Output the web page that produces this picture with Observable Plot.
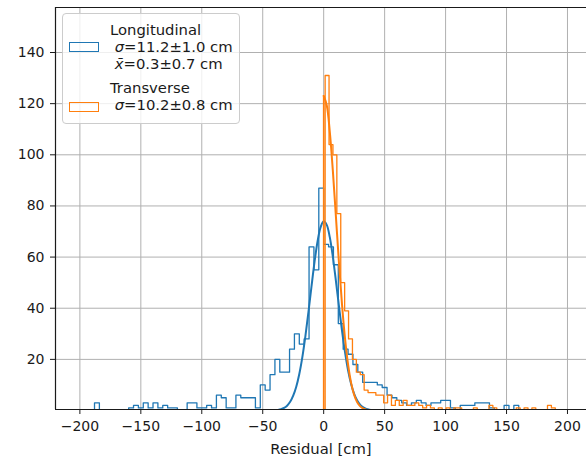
<!DOCTYPE html>
<html>
<head>
<meta charset="utf-8">
<script src="https://cdn.jsdelivr.net/npm/d3@7"></script>
<script src="https://cdn.jsdelivr.net/npm/@observablehq/plot@0.6"></script>
<style>
html, body { margin: 0; padding: 0; background: #fff; overflow: hidden; }
#wrap { position: relative; width: 586px; height: 456px; font-family: "DejaVu Sans", sans-serif; }
#legend { position: absolute; left: 62px; top: 13px; width: 178px; height: 111px; box-sizing: border-box;
  border: 1px solid #cccccc; border-radius: 4px; background: rgba(255,255,255,0.8); }
.patch { position: absolute; left: 6px; width: 30px; height: 10px; box-sizing: border-box; background: transparent; }
.ltext { position: absolute; left: 47px; font-size: 14.8px; line-height: 17px; height: 17px; white-space: pre; color: #1a1a1a; }
.m { font-style: italic; }
</style>
</head>
<body>
<div id="wrap">
  <div id="chart"></div>
  <div id="legend"></div>
</div>
<script>
// ---- data ----
const seriesNames = ["Longitudinal", "Transverse"];
const seriesColors = ["#1f77b4", "#ff7f0e"];
const legendLines = [
  ["Longitudinal", " σ=11.2±1.0 cm", " x̄=0.3±0.7 cm"],
  ["Transverse", " σ=10.2±0.8 cm"]
];

// Longitudinal histogram: 4 cm bins starting at -200
const longBinStart = -200;
const longBinWidth = 4;
const longCounts = [
  0, 0, 0, 3, 0, 0, 0, 0, 0, 0,
  1, 2, 1, 3, 1, 3, 1, 2, 1, 1,
  0, 0, 3, 3, 1, 1, 2, 1, 6, 5,
  1, 1, 6, 5, 5, 5, 1, 10, 8, 14,
  20, 15, 15, 24, 30, 26, 28, 64, 55, 87,
  65, 64, 57, 34, 24, 22, 18, 15, 11, 11,
  11, 10, 9, 6, 5, 4, 3, 2, 3, 4,
  3, 2, 3, 3, 4, 4, 1, 0, 2, 2,
  2, 3, 3, 3, 1, 0, 0, 2, 0, 2,
  0, 0, 0, 0, 0, 0, 0, 0, 0, 0
];

// Transverse histogram: 3.2 cm bins starting at 1.2
const transBinStart = 1.2;
const transBinWidth = 3.2;
const transCounts = [
  131, 104, 100, 77, 50, 39, 28, 20, 15, 14,
  8, 7, 7, 6, 6, 3, 6, 2, 4, 2,
  4, 2, 2, 3, 2, 1, 2, 1, 0, 1,
  0, 1, 0, 1, 1, 0, 0, 0, 1, 0,
  0, 0, 2, 1, 0, 0, 0, 0, 0, 1,
  0, 1, 0, 1, 0, 0, 0, 2, 1
];

// Fitted curves
const longFitX = [-60, -50, -45, -40, -37.5, -35, -32.5, -30, -27.5, -25, -22.5, -20, -17.5, -15, -12.5, -10, -7.5, -5, -2.5, 0,
  2.5, 5, 7.5, 10, 12.5, 15, 17.5, 20, 22.5, 25, 27.5, 30, 32.5, 35, 37.5, 40, 45, 50, 60];
const longFitY = [0, 0, 0.02, 0.11, 0.25, 0.51, 1.0, 1.9, 3.4, 5.8, 9.3, 14.3, 20.9, 29.1, 38.5, 48.5, 58.1, 66.2, 71.7, 74,
  72.6, 67.8, 60.2, 50.8, 40.9, 31.3, 22.8, 15.7, 10.4, 6.5, 3.9, 2.2, 1.2, 0.6, 0.3, 0.14, 0.03, 0, 0];

const transFitX = [0, 2.5, 5, 7.5, 10, 12.5, 15, 17.5, 20, 22.5, 25, 27.5, 30, 32.5, 35, 40, 45, 50, 60];
const transFitY = [123, 119.4, 109.1, 93.9, 76.1, 58.0, 41.7, 28.2, 18.0, 10.8, 6.1, 3.25, 1.63, 0.77, 0.34, 0.06, 0, 0, 0];

const xTicks = [-200, -150, -100, -50, 0, 50, 100, 150, 200];
const yTicks = [20, 40, 60, 80, 100, 120, 140];
const xDomain = [-220, 215.6];
const yDomain = [0.4, 157.6];
const xLabel = "Residual [cm]";

// ---- build ----
function stepPath(start, width, counts) {
  const pts = [{x: start, y: 0}];
  counts.forEach((c, i) => {
    pts.push({x: start + i * width, y: c});
    pts.push({x: start + (i + 1) * width, y: c});
  });
  pts.push({x: start + counts.length * width, y: 0});
  return pts;
}
const longSteps = stepPath(longBinStart, longBinWidth, longCounts);
const transSteps = stepPath(transBinStart, transBinWidth, transCounts);
const longFit = longFitX.map((x, i) => ({x, y: longFitY[i]}));
const transFit = transFitX.map((x, i) => ({x, y: transFitY[i]}));

const fmt = d => d < 0 ? "\u2212" + Math.abs(d) : String(d);

const chart = Plot.plot({
  width: 586,
  height: 456,
  marginTop: 7,
  marginLeft: 55,
  marginRight: 0,
  marginBottom: 47,
  style: {fontFamily: "DejaVu Sans, sans-serif", fontSize: "14px", color: "#1a1a1a", background: "white", overflow: "visible"},
  x: {domain: xDomain},
  y: {domain: yDomain},
  marks: [
    Plot.gridX(xTicks, {stroke: "#b0b0b0", strokeOpacity: 1, strokeWidth: 1}),
    Plot.gridY(yTicks, {stroke: "#b0b0b0", strokeOpacity: 1, strokeWidth: 1}),
    Plot.line(longSteps, {x: "x", y: "y", stroke: seriesColors[0], strokeWidth: 1.3, clip: true}),
    Plot.line(longFit, {x: "x", y: "y", stroke: seriesColors[0], strokeWidth: 2, curve: "catmull-rom", clip: true}),
    Plot.line(transSteps, {x: "x", y: "y", stroke: seriesColors[1], strokeWidth: 1.3, clip: true}),
    Plot.ruleX([transFitX[0]], {y1: 0, y2: transFitY[0], stroke: seriesColors[1], strokeWidth: 1.6, clip: true}),
    Plot.line(transFit, {x: "x", y: "y", stroke: seriesColors[1], strokeWidth: 2, curve: "catmull-rom", clip: true}),
    Plot.ruleX([xDomain[0]], {stroke: "#1a1a1a", strokeWidth: 1.2}),
    Plot.ruleY([yDomain[0]], {stroke: "#1a1a1a", strokeWidth: 1.2}),
    Plot.ruleY([yDomain[1]], {stroke: "#1a1a1a", strokeWidth: 1.2}),
    Plot.axisX(xTicks, {tickSize: 5, tickPadding: 7, tickFormat: fmt, stroke: "#1a1a1a",
      label: xLabel, labelAnchor: "center", labelArrow: "none", labelOffset: 44, fontSize: 14}),
    Plot.axisY(yTicks, {tickSize: 5, tickPadding: 6, tickFormat: fmt, stroke: "#1a1a1a", label: null})
  ]
});
document.getElementById("chart").appendChild(chart);
// slightly larger axis title, like the reference
chart.querySelectorAll("text").forEach(t => { if (t.textContent === xLabel) t.setAttribute("font-size", "14.8"); });

// legend
const legend = document.getElementById("legend");
const patchTops = [28, 88];
const textTops = [7, 65];
legendLines.forEach((lines, s) => {
  const p = document.createElement("div");
  p.className = "patch";
  p.style.top = patchTops[s] + "px";
  p.style.border = "1.3px solid " + seriesColors[s];
  legend.appendChild(p);
  lines.forEach((line, j) => {
    const t = document.createElement("div");
    t.className = "ltext";
    t.style.top = (textTops[s] + j * 17) + "px";
    t.innerHTML = line
      .replace("σ", '<span class="m">σ</span>')
      .replace("x̄", '<span class="m">x̄</span>');
    legend.appendChild(t);
  });
});
</script>
</body>
</html>
